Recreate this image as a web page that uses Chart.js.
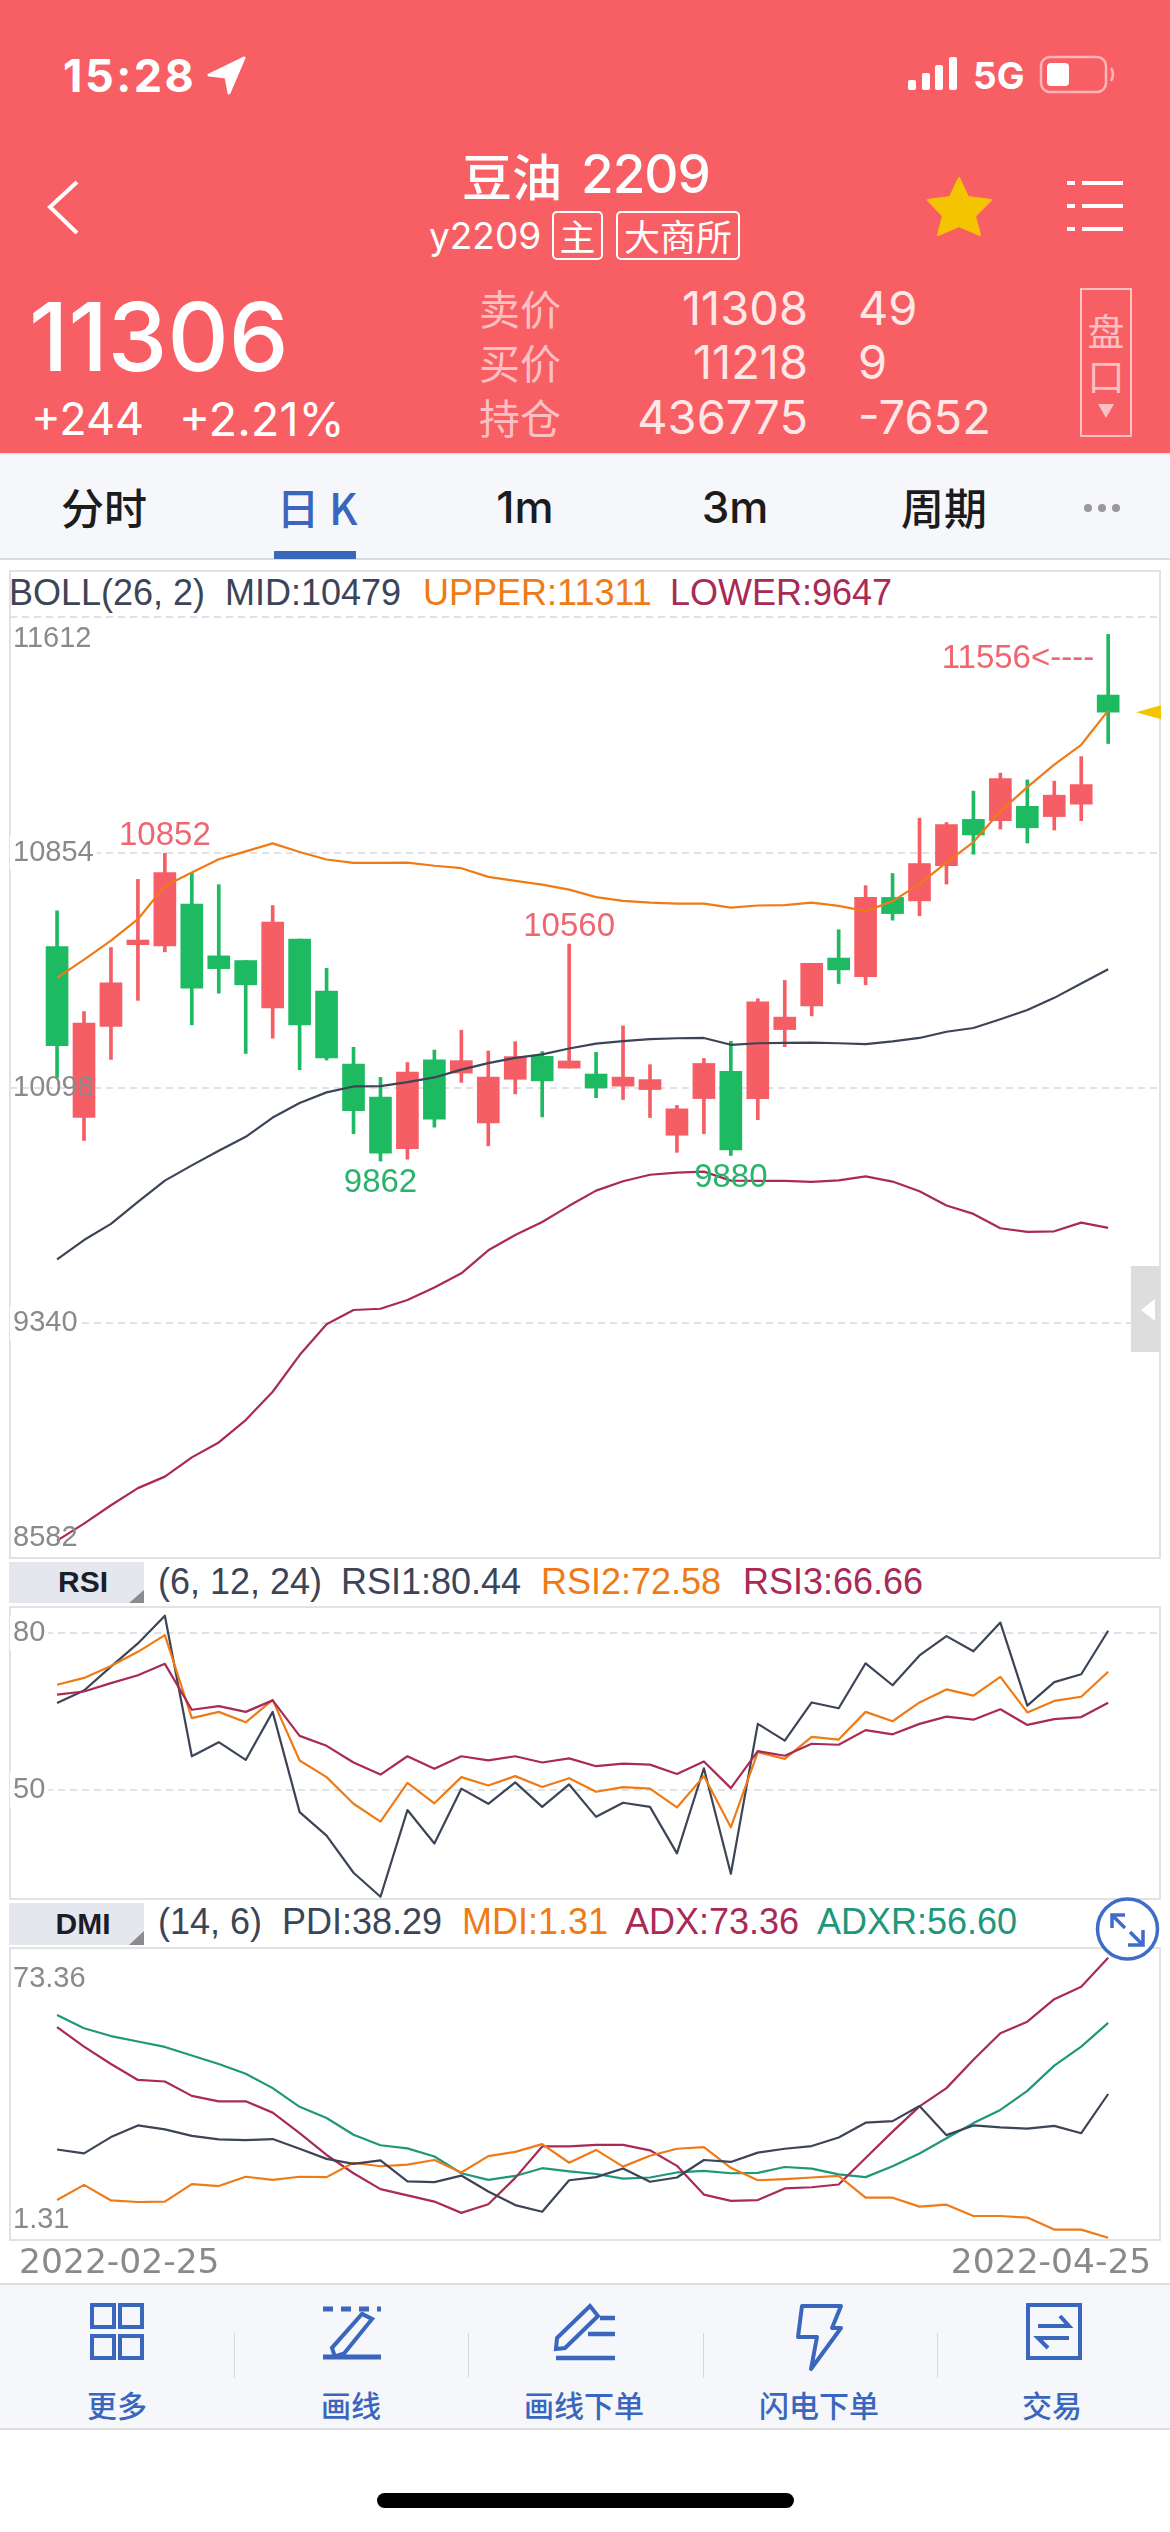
<!DOCTYPE html>
<html lang="zh"><head><meta charset="utf-8">
<script src="https://cdn.jsdelivr.net/npm/chart.js@4/dist/chart.umd.js"></script>
<style>
html,body{margin:0;padding:0;background:#fff;width:1170px;height:2532px;overflow:hidden}
#app{position:relative;width:1170px;height:2532px;overflow:hidden;font-family:"Liberation Sans",sans-serif}
.b{position:absolute;box-sizing:border-box}
.t{position:absolute;white-space:nowrap;line-height:1}
canvas{position:absolute;display:block}
svg{position:absolute;left:0;top:0;overflow:visible}
</style></head><body><div id="app"></div>
<script>
// ---------- data ----------
const dates=["2022-02-25","2022-02-28","2022-03-01","2022-03-02","2022-03-03","2022-03-04","2022-03-07","2022-03-08","2022-03-09","2022-03-10","2022-03-11","2022-03-14","2022-03-15","2022-03-16","2022-03-17","2022-03-18","2022-03-21","2022-03-22","2022-03-23","2022-03-24","2022-03-25","2022-03-28","2022-03-29","2022-03-30","2022-03-31","2022-04-01","2022-04-06","2022-04-07","2022-04-08","2022-04-11","2022-04-12","2022-04-13","2022-04-14","2022-04-15","2022-04-18","2022-04-19","2022-04-20","2022-04-21","2022-04-22","2022-04-25"];
const opens=[10552,10002,10295,10558,10554,10689,10522,10507,10355,10576,10409,10174,10068,9902,10188,10145,9985,10125,10199,10161,10142,10103,10092,9945,10063,10151,10063,10285,10361,10515,10455,10710,10699,10812,10961,10957,11003,10970,11010,11361];
const highs=[10667,10343,10549,10768,10852,10790,10751,10507,10684,10576,10482,10228,10131,10179,10219,10283,10216,10246,10214,10560,10212,10297,10172,10041,10192,10247,10384,10443,10498,10606,10748,10787,10965,10951,11052,11110,11088,11084,11163,11556];
const lows=[10131,9928,10189,10379,10535,10300,10402,10208,10257,10156,10187,9950,9862,9868,9971,10115,9911,10078,10004,10161,10066,10060,10002,9890,9950,9880,9995,10230,10329,10433,10429,10637,10651,10753,10849,10930,10885,10927,10957,11205];
const closes=[10233,10306,10435,10573,10790,10418,10481,10429,10631,10300,10194,10024,9887,10148,9997,10185,10132,10198,10120,10184,10097,10132,10124,10030,10176,9898,10374,10325,10498,10477,10710,10658,10819,10944,10911,11092,10934,11039,11073,11306];
const bollMid=[9546,9608,9660,9731,9799,9848,9895,9940,10002,10049,10083,10102,10103,10116,10131,10156,10177,10194,10205,10224,10240,10248,10254,10257,10258,10236,10241,10242,10243,10241,10238,10247,10258,10278,10290,10318,10348,10387,10433,10479];
const bollUpper=[10451,10510,10571,10640,10747,10790,10833,10858,10884,10856,10832,10821,10821,10822,10812,10804,10776,10763,10751,10735,10711,10699,10693,10690,10690,10677,10684,10685,10693,10683,10666,10698,10753,10823,10888,10987,11065,11137,11201,11311];
const bollLower=[8641,8696,8755,8810,8847,8909,8957,9029,9120,9238,9337,9383,9387,9415,9455,9501,9575,9624,9666,9718,9767,9797,9818,9825,9828,9799,9798,9798,9795,9800,9813,9796,9765,9719,9692,9646,9634,9636,9664,9647];
const rsi1=[66.6,69.0,73.55,78.0,83.3,56.4,59.1,55.7,64.9,45.7,41.2,34.1,29.5,46.1,39.7,50.2,47.3,51.4,46.7,51.0,44.8,47.5,46.7,37.8,54.1,33.9,62.6,59.4,66.7,65.6,74.2,70.0,75.7,79.4,76.5,82.0,66.1,70.6,72.1,80.44];
const rsi2=[70.1,71.4,73.7,76.4,79.6,63.7,64.9,62.9,67.2,55.6,52.4,47.3,43.9,51.3,47.4,52.4,50.8,52.6,50.5,52.2,49.6,50.5,50.2,46.6,52.6,42.8,57.2,55.9,60.1,59.6,64.9,63.1,66.7,69.2,68.0,71.6,64.8,67.0,67.8,72.58];
const rsi3=[68.2,68.8,70.4,71.9,74.1,65.3,66.0,64.9,67.1,60.3,58.4,55.2,52.9,56.4,54.0,56.4,55.6,56.4,55.2,56.0,54.5,55.0,54.8,53.0,55.4,50.3,57.4,56.5,58.8,58.6,61.4,60.6,62.6,64.0,63.4,65.4,62.4,63.5,63.9,66.66];
const pdi=[24.0,23.0,27.2,30.2,29.2,27.5,26.6,26.4,26.7,24.2,21.6,20.3,21.2,15.8,15.6,17.3,13.2,9.7,8.0,16.1,16.9,19.1,15.7,16.8,21.3,20.8,23.2,24.2,24.9,27.1,30.9,31.3,35.2,27.7,30.2,29.7,29.4,30.1,28.2,38.29];
const mdi=[11.0,14.9,10.9,10.5,10.6,15.1,14.6,17.0,16.2,17.0,16.9,20.6,19.7,20.1,21.3,18.1,22.3,23.4,25.4,20.6,23.9,19.6,22.4,24.2,24.6,19.3,16.1,16.4,16.8,17.2,11.6,11.6,9.3,9.8,6.9,6.9,6.5,3.4,3.4,1.31];
const adx=[55.5,50.5,46.0,41.9,41.5,37.8,36.4,36.4,33.5,28.2,22.6,17.9,13.8,12.2,10.6,7.7,9.9,16.7,24.8,24.8,25.2,25.2,23.8,19.8,12.4,10.8,11.0,14.0,14.3,15.0,21.8,28.6,35.1,39.8,47.1,53.9,56.9,62.7,65.9,73.36];
const adxr=[58.6,55.2,53.2,51.8,50.4,48.2,46.0,43.5,39.8,35.0,32.1,27.8,25.1,24.3,22.2,17.9,16.2,17.2,19.2,18.4,17.7,16.5,16.8,18.1,18.5,17.9,18.0,19.5,19.1,17.6,16.9,19.7,23.0,26.9,30.8,34.2,39.1,45.6,50.5,56.60];
const mainTicks=[8582,9340,10098,10854,11612];
const rsiTicks=[50,80];
const dmiTicks=[1.31,73.36];
const markIndex=[4,19,12,25,39];
const markValue=[10852,10560,9862,9880,11556];
const markText=["10852","10560","9862","9880","11556<----"];

// ---------- colours ----------
const RED='#F75F64',UP='#F55E65',DOWN='#1EBA62',DARK='#3C4458',ORANGE='#EE7B17',CRIM='#A92A55',TEAL='#1F977A',BLUE='#3A66BE',GREY='#8A8A8A';

// ---------- page furniture ----------
const app=document.getElementById('app');
function box(x,y,w,h,css){const d=document.createElement('div');d.className='b';d.style.cssText=`left:${x}px;top:${y}px;width:${w}px;height:${h}px;${css||''}`;app.appendChild(d);return d;}
function txt(s,x,y,size,color,o){o=o||{};const d=document.createElement('div');d.className='t';d.textContent=s;
 const tx=o.a==='c'?'-50%':o.a==='r'?'-100%':'0';
 d.style.cssText=`left:${x}px;top:${y}px;font-size:${size}px;color:${color};transform:translate(${tx},-50%);font-family:${o.f||'"Liberation Sans"'};font-weight:${o.w||400};${o.ls?`letter-spacing:${o.ls}px;`:''}`;
 app.appendChild(d);return d;}
const CJK='"Noto Sans CJK SC"';

box(0,0,1170,453,`background:${RED}`);
txt('15:28',63,75,45,'#fff',{f:'Inter',w:700,ls:2.5});
box(0,453,1170,107,'background:#F5F7FA;border-top:2px solid #e4e4e4;border-bottom:2px solid #dcdcdc');
box(0,2283,1170,147,'background:#F5F7FA;border-top:2px solid #dedede;border-bottom:2px solid #dedede');
txt('5G',973,75,37,'#fff',{f:'Inter',w:700});
// title block
txt('豆油',462,174,50,'#fff',{f:CJK,w:500});
txt('2209',581,174,53,'#fff',{f:'Inter',w:500,ls:-1});
txt('y2209',429,235,37,'#fff',{f:'Inter',w:400});
box(552,211,51,49,'border:2px solid #fff;border-radius:5px');
txt('主',577.5,235,36,'#fff',{f:CJK,a:'c'});
box(616,211,124,49,'border:2px solid #fff;border-radius:5px');
txt('大商所',678,235,36,'#fff',{f:CJK,a:'c'});
// quote block
txt('11306',29,336,95,'#fff',{f:'Inter',w:500});
txt('+244',31,418,45,'#fff',{f:'Inter',w:400});
txt('+2.21%',179,418,47,'#fff',{f:'Inter',w:400});
const PALE='#FBC0C2',NUM='#FDE7E7';
[['卖价',307,'11308','49'],['买价',361,'11218','9'],['持仓',416,'436775','-7652']].forEach(r=>{
 txt(r[0],479,r[1],41,PALE,{f:CJK});
 txt(r[2],808,r[1],47,NUM,{a:'r',f:'Inter'});
 txt(r[3],858,r[1],47,NUM,{f:'Inter'});
});
box(1080,288,52,149,`border:2px solid ${PALE}`);
txt('盘',1106,330,37,PALE,{f:CJK,a:'c'});
txt('口',1106,375,37,PALE,{f:CJK,a:'c'});
// tabs
txt('分时',104,506,43,'#1c1c1c',{f:CJK,w:500,a:'c'});
txt('日 K',317,506,43,BLUE,{f:CJK,w:500,a:'c'});
box(274,551,82,8,`background:${BLUE}`);
txt('1m',525,507,44,'#1c1c1c',{f:'Inter',w:500,a:'c'});
txt('3m',735,507,44,'#1c1c1c',{f:'Inter',w:500,a:'c'});
txt('周期',944,506,43,'#1c1c1c',{f:CJK,w:500,a:'c'});

// panel frames
const FR='border:2px solid #e2e2e2';
box(9,570,1152,989,FR);
box(9,1606,1152,294,FR);
box(9,1947,1152,294,FR);
// panel legends
txt('BOLL(26, 2)',9,593,36,DARK);
txt('MID:10479',225,593,36,DARK);
txt('UPPER:11311',423,593,36,ORANGE);
txt('LOWER:9647',670,593,36,CRIM);
box(9,1562,135,41,'background:#E4E7EE');
box(9,1903,135,42,'background:#E4E7EE');
txt('RSI',83,1582,30,'#1A1E28',{w:700,a:'c'});
txt('DMI',83,1924,30,'#1A1E28',{w:700,a:'c'});
txt('(6, 12, 24)',158,1582,36,DARK);
txt('RSI1:80.44',341,1582,36,DARK);
txt('RSI2:72.58',541,1582,36,ORANGE);
txt('RSI3:66.66',743,1582,36,CRIM);
txt('(14, 6)',158,1922,36,DARK);
txt('PDI:38.29',282,1922,36,DARK);
txt('MDI:1.31',462,1922,36,ORANGE);
txt('ADX:73.36',625,1922,36,CRIM);
txt('ADXR:56.60',817,1922,36,TEAL);
// toolbar labels
[['更多',117],['画线',351],['画线下单',584],['闪电下单',819],['交易',1052]].forEach(r=>txt(r[0],r[1],2404,30,BLUE,{f:CJK,a:'c',w:500}));
[234,468,703,937].forEach(x=>box(x,2333,1,45,'background:#d8d8d8'));
box(377,2493,417,15,'background:#000;border-radius:8px');

// ---------- charts ----------
const xMin=-1.746,xMax=40.96;
const pts=a=>a.map((y,x)=>({x,y}));
const line=(data,color,order)=>({type:'line',data:pts(data),borderColor:color,borderWidth:2.2,pointRadius:0,tension:0,order:order||0,borderJoinStyle:'round'});
const flat=s=>{s.width=0;s.paddingTop=0;s.paddingBottom=0;s.paddingLeft=0;s.paddingRight=0;};
function yAxis(min,max,ticks,off){
 off=off||{};
 return {type:'linear',position:'left',min,max,
  afterBuildTicks:s=>{s.ticks=ticks.map(v=>({value:v}));},
  afterFit:flat,
  border:{display:false,dash:[7,5]},
  grid:off.noGrid?{display:false,drawTicks:false}:{color:'#E0E2E6',lineWidth:2,drawTicks:false},
  ticks:{mirror:true,padding:3,autoSkip:false,color:GREY,z:1,
   font:c=>({family:'"Liberation Sans"',size:29,lineHeight:(c.tick&&off.lh&&off.lh[c.tick.value])||1.2}),
   showLabelBackdrop:true,backdropPadding:{top:0,bottom:0,left:3,right:3},
   backdropColor:c=>(c.tick&&(off.plain||[]).includes(c.tick.value))?'rgba(0,0,0,0)':'#fff',
   callback:v=>{const s=String(v);if(off.down&&off.down.includes(v))return ['',s];if(off.up&&off.up.includes(v))return [s,''];return s;}}
 };
}
const xHidden={type:'linear',min:xMin,max:xMax,display:false,offset:false};
const base={responsive:false,maintainAspectRatio:false,animation:false,devicePixelRatio:1,events:[],layout:{padding:0},plugins:{legend:{display:false},tooltip:{enabled:false}}};
function canvas(x,y,w,h){const c=document.createElement('canvas');c.width=w;c.height=h;c.style.cssText=`left:${x}px;top:${y}px;width:${w}px;height:${h}px`;app.appendChild(c);return c.getContext('2d');}

const candleColor=closes.map((c,i)=>c>=opens[i]?UP:DOWN);
const markLayer={id:'marks',afterDatasetsDraw(ch){
  const {ctx,scales:{x,y},chartArea:a}=ch;ctx.save();
  ctx.font='33px "Liberation Sans"';ctx.textBaseline='middle';
  markIndex.forEach((idx,k)=>{
   const px=x.getPixelForValue(idx),py=y.getPixelForValue(markValue[k]);
   const isHigh=markValue[k]===highs[idx];
   if(k===4){ctx.textAlign='right';ctx.fillStyle='#EE6670';ctx.fillText(markText[k],px-14,py+24);return;}
   ctx.textAlign='center';ctx.fillStyle=isHigh?'#EE6670':'#2BB36C';
   ctx.fillText(markText[k],px,py+(isHigh?-17:22));
  });
  const py=y.getPixelForValue(closes[closes.length-1]);
  ctx.fillStyle='#F5C400';ctx.beginPath();ctx.moveTo(a.right,py-7);ctx.lineTo(a.right-25,py);ctx.lineTo(a.right,py+7);ctx.closePath();ctx.fill();
  ctx.restore();
}};
new Chart(canvas(10,571,1151,988),{type:'bar',plugins:[markLayer],data:{labels:dates,datasets:[
  {type:'bar',data:dates.map((d,i)=>({x:i,y:[lows[i],highs[i]]})),backgroundColor:candleColor,grouped:false,barPercentage:1,categoryPercentage:1,maxBarThickness:3,order:3},
  {type:'bar',data:dates.map((d,i)=>({x:i,y:[Math.min(opens[i],closes[i]),Math.max(opens[i],closes[i])]})),backgroundColor:candleColor,grouped:false,barPercentage:1,categoryPercentage:1,maxBarThickness:22,order:2},
  line(bollMid,DARK),line(bollUpper,ORANGE),line(bollLower,CRIM)
 ]},options:Object.assign({},base,{scales:{x:xHidden,y:yAxis(8582,11760,mainTicks,{down:[11612],up:[8582],lh:{11612:1.52,8582:1.48},plain:[10098,11612,8582]})}})});

new Chart(canvas(10,1607,1151,292),{type:'line',data:{labels:dates,datasets:[line(rsi3,CRIM),line(rsi2,ORANGE),line(rsi1,DARK)]},
 options:Object.assign({},base,{scales:{x:xHidden,y:yAxis(29.07,84.98,rsiTicks)}})});

new Chart(canvas(10,1948,1151,334),{type:'line',data:{labels:dates,datasets:[line(pdi,DARK),line(mdi,ORANGE),line(adx,CRIM),line(adxr,TEAL)]},
 options:Object.assign({},base,{scales:{
  x:{type:'linear',min:xMin,max:xMax,offset:false,position:'bottom',afterBuildTicks:s=>{s.ticks=[{value:-1.41},{value:40.6}];},afterFit:s=>{s.height=42;s.paddingLeft=0;s.paddingRight=0;},
     border:{display:false},grid:{display:false,drawTicks:false},
     ticks:{autoSkip:false,maxRotation:0,align:'inner',padding:3,color:GREY,font:{family:'"DejaVu Sans"',size:34.5},
       callback:(v,i)=>i===0?dates[0]:dates[dates.length-1]}},
  y:yAxis(0.72,75.86,dmiTicks,{noGrid:true,down:[73.36],up:[1.31],lh:{73.36:1.45,1.31:1.24},plain:dmiTicks})}})});

// ---------- vector icons ----------
const ns='http://www.w3.org/2000/svg';
const svg=document.createElementNS(ns,'svg');svg.setAttribute('width','1170');svg.setAttribute('height','2532');
svg.innerHTML=`
<path d="M77 182 L50 207 L77 233" fill="none" stroke="#fff" stroke-width="4"/>
<path d="M244 58 L209 75 L226 77 L229 93 Z" fill="#fff" stroke="#fff" stroke-width="3" stroke-linejoin="round"/>
<g fill="#fff"><rect x="908" y="80" width="8" height="10" rx="2"/><rect x="922" y="73" width="8" height="17" rx="2"/><rect x="935" y="65" width="8" height="25" rx="2"/><rect x="949" y="57" width="8" height="33" rx="2"/></g>
<rect x="1041" y="57" width="65" height="35" rx="9" fill="none" stroke="#FFB5B7" stroke-width="2.5"/>
<rect x="1047" y="63" width="22" height="23" rx="4" fill="#fff"/>
<path d="M1111 68 q4 6 0 13" fill="none" stroke="#FFB5B7" stroke-width="2.5"/>
<path d="M959 178 L968 197 L991 200 L975 216 L980 235 L959 226 L938 235 L943 216 L928 200 L950 197 Z" fill="#F5C400" stroke="#F5C400" stroke-width="2" stroke-linejoin="round"/>
<g fill="#fff"><rect x="1067" y="181" width="8" height="4"/><rect x="1082" y="181" width="41" height="4"/><rect x="1067" y="204" width="8" height="4"/><rect x="1082" y="204" width="41" height="4"/><rect x="1067" y="227" width="8" height="4"/><rect x="1082" y="227" width="41" height="4"/></g>
<path d="M1098 404 h16 l-8 14 Z" fill="${PALE}"/>
<g fill="#9a9a9a"><circle cx="1088" cy="508" r="4"/><circle cx="1102" cy="508" r="4"/><circle cx="1116" cy="508" r="4"/></g>
<rect x="1131" y="1266" width="29" height="86" fill="#DDDDDD"/>
<path d="M1155 1299 L1141 1310 L1155 1321 Z" fill="#fff"/>
<path d="M129 1603 L144 1590 V1603 Z" fill="#8b8b8b"/><path d="M129 1945 L144 1931 V1945 Z" fill="#8b8b8b"/>
<circle cx="1127.5" cy="1929" r="30" fill="#fff" fill-opacity=".95" stroke="#3F6CC8" stroke-width="3.5"/>
<path d="M1112 1928 V1915 H1125 M1113 1916 L1125 1928 M1143 1930 V1945 H1128 M1142 1944 L1130 1932" fill="none" stroke="#3F6CC8" stroke-width="3.5"/>
<g fill="none" stroke="${BLUE}" stroke-width="4">
 <rect x="92" y="2305" width="22" height="22"/><rect x="120" y="2305" width="22" height="22"/><rect x="92" y="2336" width="22" height="22"/><rect x="120" y="2336" width="22" height="22"/>
 <path d="M323 2309 H381" stroke-dasharray="10 8" stroke-width="5"/>
 <path d="M323 2357 H381" stroke-width="5"/>
 <path d="M368 2318 L376 2326 L339 2350 H329 V2341 Z" transform="rotate(-18 352 2335)"/>
 <path d="M590 2306 L598 2316 L565 2348 L556 2349 L557 2338 Z" />
 <path d="M600 2318 H615 M590 2350 M588 2334 H615 M556 2358 H615" stroke-width="4.5"/>
 <path d="M802 2306 H841 L832 2328 H841 L811 2369 L817 2337 H798 Z" stroke-width="4" stroke-linejoin="round"/>
 <rect x="1028" y="2305" width="52" height="53"/>
 <path d="M1038 2326 H1069 L1060 2316 M1069 2338 H1038 L1048 2348" stroke-width="4"/>
</g>`;
app.appendChild(svg);
</script></body></html>
